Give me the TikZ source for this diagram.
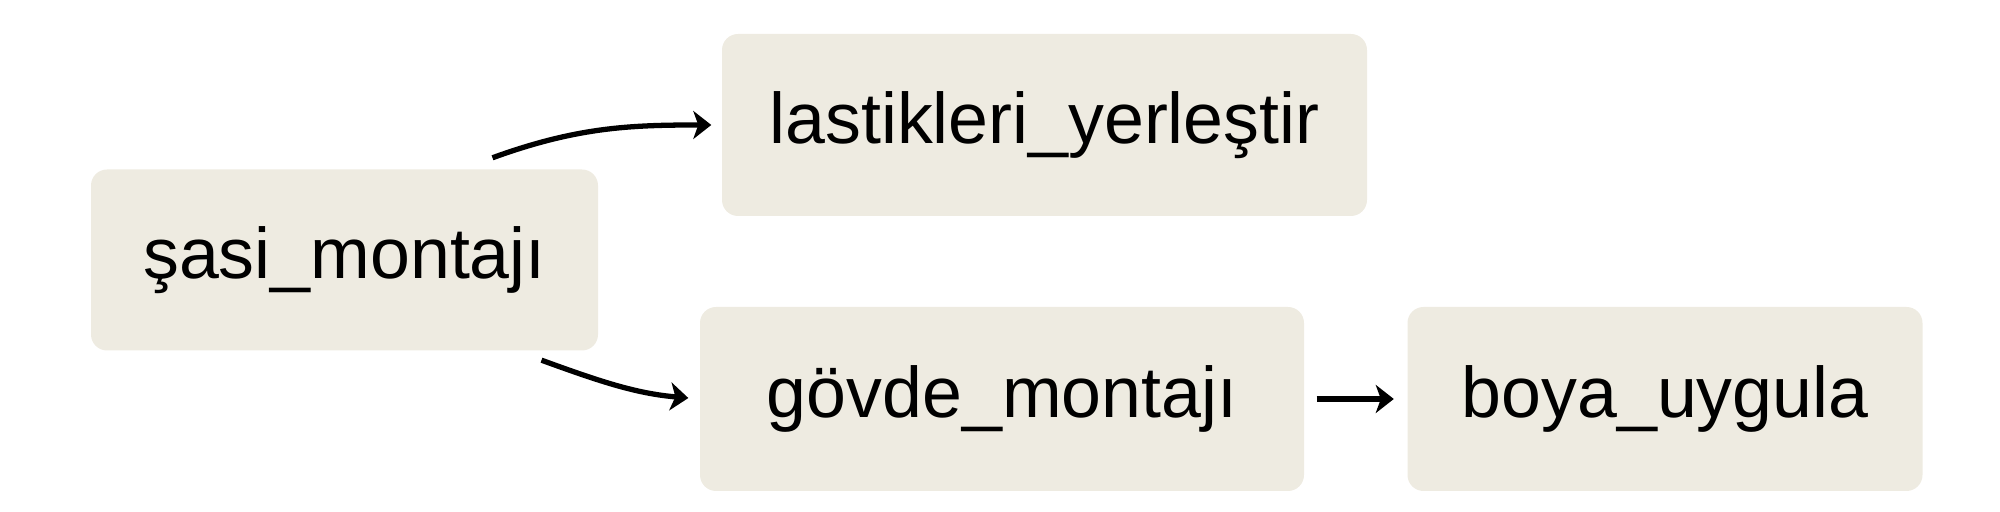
\documentclass[tikz,border=0pt]{standalone}
\usepackage{fontspec}
\setmainfont{Liberation Sans}
\usepackage{tikz}
\usetikzlibrary{arrows.meta,positioning,calc}

\definecolor{boxfill}{HTML}{EEEBE1}

\tikzset{
  taskbox/.style={fill=boxfill, rounded corners=0.16cm, inner sep=0pt,
    font=\fontsize{20.4}{24}\selectfont},
  flow/.style={line width=1.5pt, -{Stealth[length=0.18cm, width=0.28cm, inset=0.05cm]}},
}

\begin{document}
\begin{tikzpicture}

\useasboundingbox (0,0) rectangle (20,5.12);

% Boxes
\node[taskbox, minimum width=5.07cm, minimum height=1.81cm] (sasi) at (3.445,2.52) {şasi\_montajı};
\node[taskbox, minimum width=6.45cm, minimum height=1.82cm] (lastik) at (10.445,3.87) {lastikleri\_yerleştir};
\node[taskbox, minimum width=6.04cm, minimum height=1.84cm] (govde) at (10.02,1.13) {gövde\_montajı};
\node[taskbox, minimum width=5.15cm, minimum height=1.84cm] (boya) at (16.65,1.13) {boya\_uygula};

% Arrows
\draw[flow, shorten >=0.1cm] ([xshift=1.48cm, yshift=0.11cm]sasi.north) to[out=20, in=180] (lastik.west);
\draw[flow, shorten >=0.11cm] ([xshift=1.97cm, yshift=-0.09cm]sasi.south) to[out=-20, in=175] (govde.west);
\draw[flow, shorten <=0.12cm, shorten >=0.13cm] (govde.east) -- (boya.west);

\end{tikzpicture}
\end{document}
